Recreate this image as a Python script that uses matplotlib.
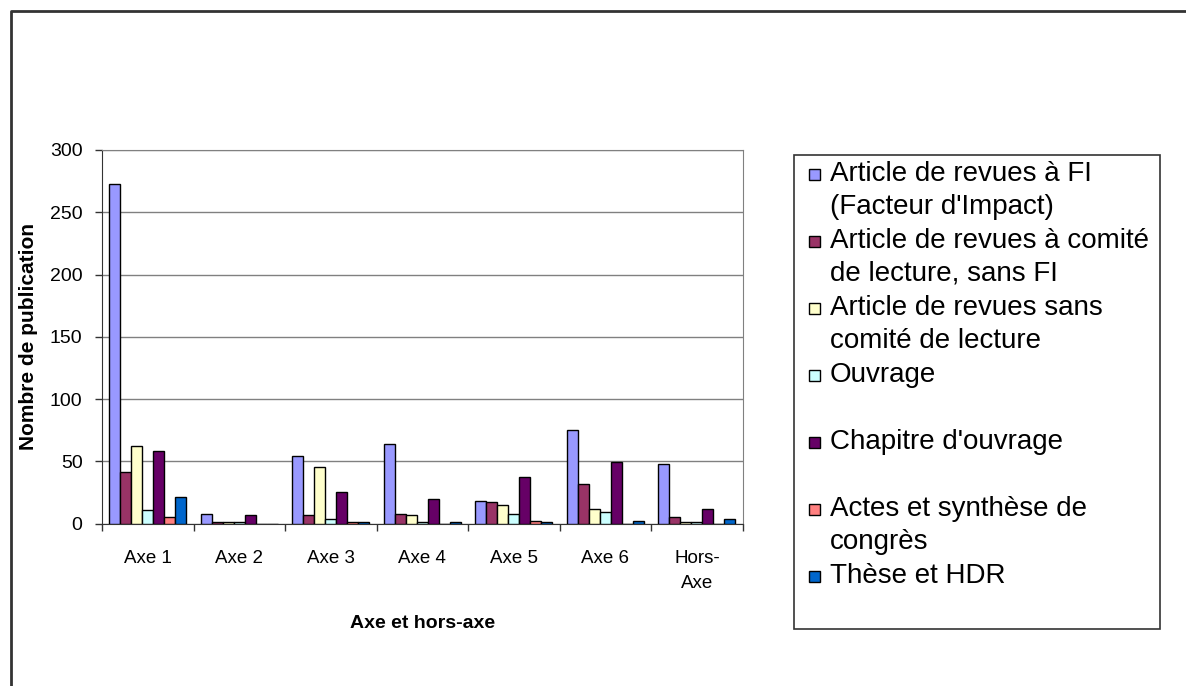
import numpy as np
import matplotlib
matplotlib.use("Agg")
import matplotlib.pyplot as plt
from matplotlib.patches import Rectangle

plt.rcParams['font.family'] = ['Liberation Sans', 'DejaVu Sans']

# data
categories = ['Axe 1', 'Axe 2', 'Axe 3', 'Axe 4', 'Axe 5', 'Axe 6', 'Hors-\nAxe']
series_names = [
    "Article de revues à FI\n(Facteur d'Impact)",
    "Article de revues à comité\nde lecture, sans FI",
    "Article de revues sans\ncomité de lecture",
    "Ouvrage",
    "Chapitre d'ouvrage",
    "Actes et synthèse de\ncongrès",
    "Thèse et HDR",
]
revues_fi = [273, 8, 54, 64, 18, 75, 48]
revues_comite = [41, 1, 7, 8, 17, 32, 5]
revues_sans_comite = [62, 1, 45, 7, 15, 12, 1]
ouvrage = [11, 1, 4, 1, 8, 9, 1]
chapitre = [58, 7, 25, 20, 37, 49, 12]
actes = [5, 0, 1, 0, 2, 0, 0]
these_hdr = [21, 0, 1, 1, 1, 2, 4]
yticks = [0, 50, 100, 150, 200, 250, 300]

colors = ['#9999FF', '#993366', '#FFFFCC', '#CCFFFF', '#660066', '#FF8080', '#0066CC']
all_series = [revues_fi, revues_comite, revues_sans_comite, ouvrage, chapitre, actes, these_hdr]

W, H = 1186, 686
fig = plt.figure(figsize=(W / 100, H / 100), dpi=100)
ax = fig.add_axes([102 / W, (H - 523.5) / H, 640.7 / W, 373.5 / H])

x = np.arange(len(categories))
bw = 0.12
for j, (vals, col) in enumerate(zip(all_series, colors)):
    ax.bar(x + (j - 3) * bw, vals, bw, color=col, edgecolor='black', linewidth=1.0, zorder=3)

ax.set_xlim(-0.5, len(categories) - 0.5)
ax.set_ylim(0, 300)
ax.set_yticks(yticks)
ax.yaxis.grid(True, color='#808080', linewidth=1.0, zorder=0)
ax.tick_params(axis='y', direction='out', length=5, width=1, pad=9, labelsize=14, colors='#333333', labelcolor='black')

# category labels at centres, tick marks on boundaries
ax.set_xticks(x)
ax.set_xticklabels(categories, fontsize=13.5, linespacing=1.6)
ax.set_xticks(np.arange(len(categories) + 1) - 0.5, minor=True)
ax.tick_params(axis='x', which='major', length=0, pad=19)
ax.tick_params(axis='x', which='minor', direction='out', length=5, width=1, color='#333333')

for s in ['left', 'bottom']:
    ax.spines[s].set_color('#333333')
for s in ['right', 'top']:
    ax.spines[s].set_color('#808080')

ax.set_ylabel('Nombre de publication', fontsize=15, fontweight='bold')
ax.yaxis.set_label_coords(-0.1, 0.5)
ax.set_xlabel('Axe et hors-axe', fontsize=14, fontweight='bold')
ax.xaxis.set_label_coords(0.5, -0.246)

# overlay in pixel coordinates for the frame and the legend
ov = fig.add_axes([0, 0, 1, 1], facecolor='none')
ov.set_xlim(0, W)
ov.set_ylim(H, 0)
ov.axis('off')
ov.plot([11, 11, W], [H, 11, 11], color='#333333', linewidth=2)

ov.add_patch(Rectangle((794, 155), 366, 474, facecolor='white', edgecolor='#333333', linewidth=1.2))
slot = 67
for i, (name, col) in enumerate(zip(series_names, colors)):
    yc = 174 + i * slot
    ov.add_patch(Rectangle((809, yc - 5.5), 11, 11, facecolor=col, edgecolor='black', linewidth=1))
    lines = name.split('\n')
    for k, line in enumerate(lines):
        ov.text(830, yc + k * 33, line, fontsize=20, va='center', ha='left')

fig.savefig('out.png', dpi=100)
